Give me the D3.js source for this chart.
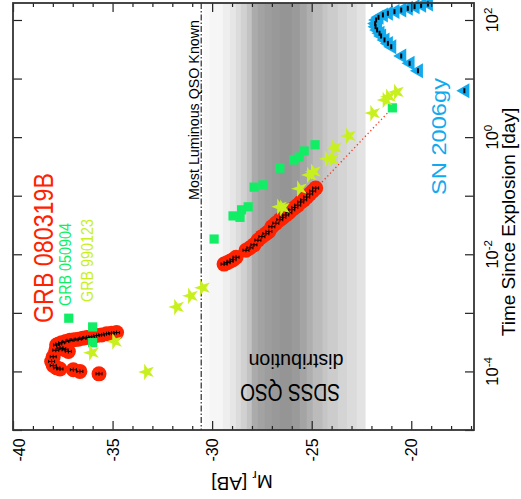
<!DOCTYPE html>
<html><head><meta charset="utf-8">
<script src="https://cdn.jsdelivr.net/npm/d3@7"></script>
<style>html,body{margin:0;padding:0;background:#fff;} svg{display:block;font-family:"Liberation Sans", Arial, Helvetica, sans-serif;}</style>
</head><body><svg id="c" width="521" height="499"></svg>
<script>
// ---------------- data ----------------
// GRB 080319B (red circles): absolute magnitude M_r and time since explosion [day]
const grb080319bM = [-34.8,-35.05,-35.3,-35.55,-35.8,-36.05,-36.3,-36.5,-36.72,-36.93,-37.14,-37.35,-37.56,-37.7,-37.81,
  -37.85,-37.64,-37.5,-37.39,-37.22,-37.98,-38.06,-37.98,-37.8,-37.64,-36.97,-36.64,-35.68,
  -29.4,-29.25,-29.1,-28.95,-28.8,
  -28.3,-28.1,-27.9,-27.7,-27.5,-27.3,-27.15,
  -27.0,-26.8,-26.6,-26.45,-26.3,-26.15,-26.0,-25.85,-25.7,-25.55,-25.4,-25.25,-25.1,-24.95,-24.8];
const grb080319bT = [4.6e-4,4.5e-4,4.4e-4,4.2e-4,4.1e-4,3.9e-4,3.8e-4,3.7e-4,3.55e-4,3.47e-4,3.39e-4,3.24e-4,3.09e-4,2.95e-4,2.82e-4,
  2.3e-4,2.51e-4,2.45e-4,2.34e-4,2.19e-4,1.78e-4,1.48e-4,1.26e-4,1.15e-4,1.10e-4,1.07e-4,1.0e-4,9.1e-5,
  6.8e-3,7.2e-3,7.6e-3,8.1e-3,8.9e-3,
  0.0117,0.0129,0.0145,0.0174,0.020,0.0224,0.0245,
  0.0295,0.0339,0.0389,0.0427,0.0468,0.0513,0.0575,0.063,0.069,0.078,0.085,0.095,0.107,0.12,0.135];
// power-law extrapolation (red dotted)
const extrapM = [-24.75, -20.95];
const extrapT = [0.137, 3.16];
// GRB 050904 (green squares)
const grb050904M = [-37.2,-36.0,-36.0,-29.9,-28.95,-28.6,-28.52,-28.19,-27.89,-27.44,-26.6,-25.89,-25.63,-25.38,-24.83,-20.95];
const grb050904T = [8.1e-4,5.75e-4,3.1e-4,0.0182,0.0452,0.0427,0.0575,0.0646,0.14,0.153,0.295,0.407,0.457,0.58,0.741,3.16];
// GRB 990123 (yellow-green stars)
const grb990123M = [-36.04,-34.88,-33.28,-31.77,-31.07,-30.47,-26.6,-26.45,-25.6,-25.1,-24.9,-24.2,-24.0,-23.84,-23.14,-21.92,-21.13,-20.73,-21.3];
const grb990123T = [2.09e-4,3.24e-4,9.8e-5,1.26e-3,1.95e-3,2.69e-3,0.0646,0.062,0.132,0.226,0.257,0.427,0.42,0.66,1.05,2.57,4.9,5.9,4.3];
// SN 2006gy (blue triangles)
const sn2006gyM = [-17.41,-19.74,-20.16,-20.58,-21.08,-21.25,-21.42,-21.59,-21.67,-21.79,-21.87,-21.89,-21.84,-21.72,-21.5,-21.25,-20.92,-20.58,-20.25,-19.91,-19.58,-19.24];
const sn2006gyT = [6.2,13.6,18.2,24.3,35,39.8,45.7,53.3,59.3,67.6,76.9,87,100,111,122,130,139,148,158,169,178,187];
// SDSS QSO distribution: bin edges in M_r and grey level of each bin
const qsoEdges = [-30.42,-30.12,-29.46,-29.11,-28.81,-28.56,-28.26,-28.01,-27.71,-27.36,-27.0,-26.6,-26.0,-25.6,-25.25,-24.95,-24.45,-24.2,-23.69,-23.24,-22.74,-22.31];
const qsoGrey = [250,246,238,230,220,209,195,171,163,157,153,149,154,164,175,187,197,204,212,219,227];
// Most luminous QSO known
const mostLumQSO = -30.55;
// axes
const xMajorTicks = [-40,-35,-30,-25,-20];
const xMinorTicks = d3.range(-40,-16,1).filter(v => v % 5 !== 0);
const yDecadeTicks = [1e-5,1e-4,1e-3,1e-2,1e-1,1,10,100];
const yLabelExps = [-4,-2,0,2];

// ---------------- scales ----------------
const svg = d3.select("#c");
const L = 13, R = 474, T = 3, B = 430;
const x = d3.scaleLinear().domain([-40,-16.85]).range([L,R]);
const y = d3.scaleLog().domain([1e-5, Math.pow(10,2.29)]).range([B,T]);

// grey band
const band = svg.append("g");
qsoGrey.forEach((g,i) => {
  band.append("rect")
    .attr("x", x(qsoEdges[i])).attr("y", T)
    .attr("width", x(qsoEdges[i+1]) - x(qsoEdges[i]) + 0.3)
    .attr("height", B - T)
    .attr("fill", d3.rgb(g,g,g));
});

// most luminous QSO line
svg.append("line").attr("x1", x(mostLumQSO)).attr("x2", x(mostLumQSO))
  .attr("y1", T).attr("y2", B).attr("stroke","#000").attr("stroke-width",1)
  .attr("stroke-dasharray","6,2,1.5,2");

// texts
function rtext(tx, ty, rot, str, size, color, anchor, len) {
  const t = svg.append("text").attr("transform", `translate(${tx},${ty}) rotate(${rot})`)
    .attr("text-anchor", anchor).attr("font-size", size).attr("fill", color).text(str);
  if (len) t.attr("textLength", len).attr("lengthAdjust","spacingAndGlyphs");
  return t;
}
rtext(199, 200, -90, "Most Luminous QSO Known", 14.5, "#000", "start", 180);
rtext(52.7, 323, -90, "GRB 080319B", 27, "#ff2200", "start", 150);
rtext(70.7, 306, -90, "GRB 050904", 16, "#11ee66", "start", 83);
rtext(92.7, 302, -90, "GRB 990123", 16, "#c8f01e", "start", 83);
rtext(446, 195, -90, "SN 2006gy", 21, "#11aaee", "start", 117);
rtext(290, 384, 180, "SDSS QSO", 24, "#000", "middle", 100);
rtext(296, 353.5, 180, "distribution", 20, "#000", "middle", 95);

// red dotted extrapolation
svg.append("line")
  .attr("x1", x(extrapM[0])).attr("y1", y(extrapT[0]))
  .attr("x2", x(extrapM[1])).attr("y2", y(extrapT[1]))
  .attr("stroke","#ff3322").attr("stroke-width",1.3).attr("stroke-dasharray","1.3,2.6");

// GRB 080319B
const grbA = grb080319bM.map((m,i) => ({m, t: grb080319bT[i]}));
svg.append("g").selectAll("circle").data(grbA).join("circle")
  .attr("cx", d => x(d.m)).attr("cy", d => y(d.t)).attr("r", 7.5).attr("fill","#ff2200");
const eb = svg.append("g").attr("stroke","#000").attr("stroke-width",1).attr("fill","none");
grbA.forEach(d => {
  const cx = x(d.m), cy = y(d.t);
  eb.append("path").attr("d",
    `M${cx-3},${cy}H${cx+3}M${cx-3},${cy-1.6}V${cy+1.6}M${cx+3},${cy-1.6}V${cy+1.6}M${cx},${cy-2}V${cy+2}`);
});

// GRB 050904 squares
const sq = grb050904M.map((m,i) => ({m, t: grb050904T[i]}));
svg.append("g").selectAll("rect").data(sq).join("rect")
  .attr("x", d => x(d.m)-4.6).attr("y", d => y(d.t)-4.6).attr("width",9.2).attr("height",9.2)
  .attr("fill","#11ee66");

// GRB 990123 stars
const st = grb990123M.map((m,i) => ({m, t: grb990123T[i]}));
const star = d3.symbol().type(d3.symbolStar).size(85);
svg.append("g").selectAll("path").data(st).join("path")
  .attr("d", star).attr("transform", d => `translate(${x(d.m)},${y(d.t)}) rotate(-90)`)
  .attr("fill","#c8f01e");

// SN 2006gy triangles (pointing left)
const sn = sn2006gyM.map((m,i) => ({m, t: sn2006gyT[i]}));
svg.append("g").selectAll("path").data(sn).join("path")
  .attr("d", d => { const cx = x(d.m), cy = y(d.t); return `M${cx-6.5},${cy}L${cx+6.5},${cy-7.5}L${cx+6.5},${cy+7.5}Z`; })
  .attr("fill","#11aaee");
svg.append("g").selectAll("line").data(sn).join("line")
  .attr("x1", d => x(d.m)+1.5).attr("x2", d => x(d.m)+1.5)
  .attr("y1", d => y(d.t)-2.5).attr("y2", d => y(d.t)+2.5)
  .attr("stroke","#000").attr("stroke-width",2);

// ---------------- axes ----------------
function styleAxis(g) { g.select(".domain").remove(); g.selectAll("line").attr("stroke","#222").attr("stroke-width",1.2); }
svg.append("g").attr("transform",`translate(0,${B})`).call(d3.axisBottom(x).tickValues(xMajorTicks).tickSizeInner(-9).tickSizeOuter(0).tickFormat(d => d)).call(styleAxis)
  .call(g => g.selectAll("text")
     .attr("y",0).attr("dy","0.35em").attr("font-size",16).attr("fill","#000")
     .attr("font-family",'"Liberation Sans", Arial, sans-serif')
     .attr("text-anchor","middle")
     .attr("transform", d => `translate(${d === -40 ? 6 : 0},20) rotate(-90)`));
svg.append("g").attr("transform",`translate(0,${B})`).call(d3.axisBottom(x).tickValues(xMinorTicks).tickSizeInner(-4).tickSizeOuter(0).tickFormat("")).call(styleAxis);
svg.append("g").attr("transform",`translate(0,${T})`).call(d3.axisTop(x).tickValues(xMajorTicks).tickSizeInner(-9).tickSizeOuter(0).tickFormat("")).call(styleAxis);
svg.append("g").attr("transform",`translate(0,${T})`).call(d3.axisTop(x).tickValues(xMinorTicks).tickSizeInner(-4).tickSizeOuter(0).tickFormat("")).call(styleAxis);
svg.append("g").attr("transform",`translate(${L},0)`).call(d3.axisLeft(y).tickValues(yDecadeTicks).tickSizeInner(-9).tickSizeOuter(0).tickFormat("")).call(styleAxis);
svg.append("g").attr("transform",`translate(${R},0)`).call(d3.axisRight(y).tickValues(yDecadeTicks).tickSizeInner(-9).tickSizeOuter(0).tickFormat("")).call(styleAxis);

// right labels 10^n
yLabelExps.forEach(e => {
  const t = svg.append("text").attr("transform", `translate(497.5,${y(Math.pow(10,e))}) rotate(-90)`)
    .attr("text-anchor","middle").attr("font-size",16.5).attr("fill","#000");
  t.append("tspan").text("10");
  t.append("tspan").attr("dy","-0.45em").attr("font-size",11.5).text(String(e));
});

// frame
svg.append("rect").attr("x",L).attr("y",T).attr("width",R-L).attr("height",B-T)
  .attr("fill","none").attr("stroke","#333").attr("stroke-width",1.8);

// axis titles
const xt = svg.append("text").attr("transform","translate(242,475) rotate(180)")
  .attr("text-anchor","middle").attr("font-size",19).attr("fill","#000");
xt.append("tspan").text("M");
xt.append("tspan").attr("dy","0.3em").attr("font-size",13).text("r");
xt.append("tspan").attr("dy","-0.3em").text(" [AB]");
rtext(515, 222, -90, "Time Since Explosion [day]", 19, "#000", "middle");
</script></body></html>
